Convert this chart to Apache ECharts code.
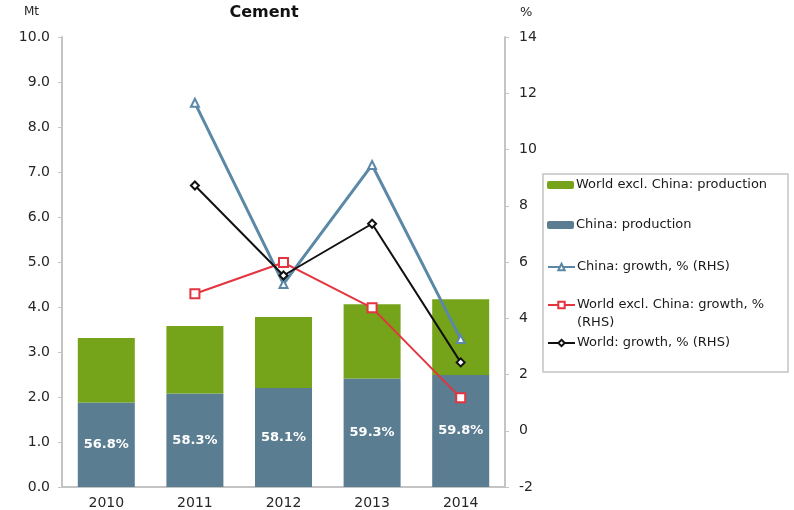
<!DOCTYPE html>
<html>
<head>
<meta charset="utf-8">
<script src="https://cdn.jsdelivr.net/npm/echarts@6/dist/echarts.min.js"></script>
<style>
  html, body { margin: 0; padding: 0; background: #fff; }
  #chart { width: 794px; height: 510px; }
</style>
</head>
<body>
<div id="chart"></div>
<script>
// data
var years = ['2010', '2011', '2012', '2013', '2014'];
var chinaProd = [1.88, 2.08, 2.20, 2.41, 2.49];        // Mt
var worldExclProd = [1.43, 1.50, 1.58, 1.65, 1.68];    // Mt, stacked on top
var chinaShare = ['56.8%', '58.3%', '58.1%', '59.3%', '59.8%'];
var chinaGrowth = [null, 11.66, 5.22, 9.45, 3.26];     // % RHS
var worldExclGrowth = [null, 4.87, 5.98, 4.37, 1.17];
var worldGrowth = [null, 8.72, 5.52, 7.36, 2.43];

var leftTicks = { min: 0, max: 10, interval: 1 };
var rightTicks = { min: -2, max: 14, interval: 2 };

var FONT = '"DejaVu Sans", Verdana, sans-serif';
var GREEN = '#75a319';
var STEEL = '#5a7d92';
var BLUE_LINE = '#5b88a6';
var RED = '#e3343f';
var TXT = '#1a1a1a';

function legendItem(name, top, extra) {
  var item = {
    data: [name],
    left: 547,
    top: top,
    padding: 0,
    itemWidth: 27,
    itemHeight: 8,
    selectedMode: false,
    textStyle: { fontFamily: FONT, fontSize: 13, color: TXT, lineHeight: 18, padding: [0, 0, 0, -3] }
  };
  if (extra) {
    for (var k in extra) item[k] = extra[k];
  }
  return item;
}

var option = {
  animation: false,
  backgroundColor: '#fff',
  title: {
    text: 'Cement',
    left: 259,
    top: 0,
    textAlign: 'center',
    textStyle: { fontFamily: FONT, fontSize: 16, fontWeight: 'bold', color: '#111' }
  },
  grid: { left: 62, right: 289, top: 37, bottom: 20 },
  legend: [
    legendItem('World excl. China: production', 176),
    legendItem('China: production', 216),
    legendItem('China: growth, % (RHS)', 258),
    // empty first line keeps the icon level with the first line of text
    legendItem('World excl. China: growth, % (RHS)', 278, {
      formatter: function () { return ' \nWorld excl. China: growth, %\n(RHS)'; }
    }),
    legendItem('World: growth, % (RHS)', 334)
  ],
  graphic: [{
    type: 'rect',
    shape: { x: 543, y: 174, width: 245, height: 198 },
    style: { fill: 'none', stroke: '#c4c4c4', lineWidth: 1.5 },
    z: 0
  }],
  xAxis: {
    type: 'category',
    data: years,
    axisLine: { lineStyle: { color: '#c4c4c4', width: 2 } },
    axisTick: { show: false },
    axisLabel: { fontFamily: FONT, fontSize: 14, color: '#262626', margin: 9 }
  },
  yAxis: [
    {
      type: 'value',
      min: leftTicks.min,
      max: leftTicks.max,
      interval: leftTicks.interval,
      name: 'Mt',
      nameLocation: 'end',
      nameGap: 19,
      nameTextStyle: { fontFamily: FONT, fontSize: 12, color: '#262626', align: 'right', padding: [0, 23, 0, 0] },
      splitLine: { show: false },
      axisLine: { show: true, lineStyle: { color: '#c4c4c4', width: 2 } },
      axisTick: { show: true, length: 4, lineStyle: { color: '#c4c4c4' } },
      axisLabel: {
        fontFamily: FONT, fontSize: 14, color: '#262626', margin: 12,
        formatter: function (v) { return v.toFixed(1); }
      }
    },
    {
      type: 'value',
      position: 'right',
      min: rightTicks.min,
      max: rightTicks.max,
      interval: rightTicks.interval,
      name: '%',
      nameLocation: 'end',
      nameGap: 18,
      nameTextStyle: { fontFamily: FONT, fontSize: 13, color: '#262626', align: 'left', padding: [0, 0, 0, 15] },
      splitLine: { show: false },
      axisLine: { show: true, lineStyle: { color: '#c4c4c4', width: 2 } },
      axisTick: { show: true, length: 4, lineStyle: { color: '#c4c4c4' } },
      axisLabel: { fontFamily: FONT, fontSize: 14, color: '#262626', margin: 14 }
    }
  ],
  series: [
    {
      name: 'China: production',
      type: 'bar',
      stack: 'prod',
      data: chinaProd,
      barWidth: 57,
      itemStyle: { color: STEEL },
      label: {
        show: true,
        position: 'inside',
        fontFamily: FONT,
        fontSize: 13,
        fontWeight: 'bold',
        color: '#fff',
        formatter: function (p) { return chinaShare[p.dataIndex]; }
      }
    },
    {
      name: 'World excl. China: production',
      type: 'bar',
      stack: 'prod',
      data: worldExclProd,
      barWidth: 57,
      itemStyle: { color: GREEN }
    },
    {
      name: 'China: growth, % (RHS)',
      type: 'line',
      yAxisIndex: 1,
      data: chinaGrowth,
      symbol: 'emptyTriangle',
      symbolSize: 8,
      lineStyle: { color: BLUE_LINE, width: 3 },
      itemStyle: { color: BLUE_LINE, borderWidth: 1 },
      z: 3
    },
    {
      name: 'World excl. China: growth, % (RHS)',
      type: 'line',
      yAxisIndex: 1,
      data: worldExclGrowth,
      symbol: 'emptyRect',
      symbolSize: 9,
      lineStyle: { color: RED, width: 2 },
      itemStyle: { color: RED, borderWidth: 1.5 },
      z: 4
    },
    {
      name: 'World: growth, % (RHS)',
      type: 'line',
      yAxisIndex: 1,
      data: worldGrowth,
      symbol: 'emptyDiamond',
      symbolSize: 8,
      lineStyle: { color: '#111', width: 2 },
      itemStyle: { color: '#111', borderWidth: 1.5 },
      z: 5
    }
  ]
};

var chart = echarts.init(document.getElementById('chart'));
chart.setOption(option);
</script>
</body>
</html>
